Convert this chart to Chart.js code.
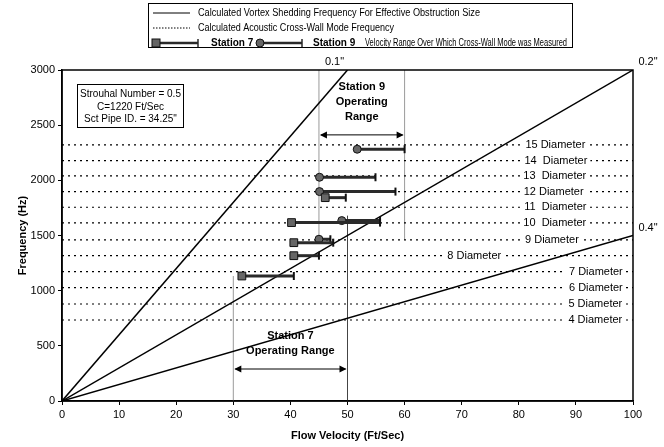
<!DOCTYPE html>
<html>
<head>
<meta charset="utf-8">
<script src="https://cdn.jsdelivr.net/npm/chart.js@4/dist/chart.umd.min.js"></script>
<style>
  body { margin: 0; background: #fff; }
  canvas { display: block; }
</style>
</head>
<body>
<canvas id="chart" width="664" height="447"></canvas>
<script>
// Vortex shedding lines (obstruction size), each from origin to an end point
const vortexSizes = ['0.1"', '0.2"', '0.4"'];
const vortexEndVelocity = [50, 100, 100];
const vortexEndFreq = [3000, 3000, 1500];

// Acoustic cross-wall modes
const modeLabels = ['4 Diameter', '5 Diameter', '6 Diameter', '7 Diameter', '8 Diameter', '9 Diameter',
  '10  Diameter', '11  Diameter', '12 Diameter', '13  Diameter', '14  Diameter', '15 Diameter'];
const modeFreqs = [734, 879, 1027, 1172, 1317, 1460, 1614, 1756, 1898, 2040, 2179, 2321];
const modeLabelVelocity = [93.4, 93.4, 93.5, 93.5, 72.2, 85.8, 86.3, 86.4, 86.1, 86.3, 86.5, 86.4];

// Measured velocity ranges
const st7Start = [31.5, 40.6, 40.6, 40.2, 46.1];
const st7End = [40.6, 45, 47.5, 55.7, 49.7];
const st7Freq = [1133, 1317, 1435, 1617, 1843];
const st9Start = [45, 49, 45.1, 45.1, 51.7];
const st9End = [47.0, 55.7, 58.4, 54.9, 60];
const st9Freq = [1466, 1635, 1898, 2028, 2282];

// Operating ranges
const rangeNames = ['Station 7', 'Station 9'];
const rangeStart = [30, 45];
const rangeEnd = [50, 60];
const rangeArrowFreq = [290, 2412];
const guideVelocity = [30, 50, 45, 60];
const guideFrom = [0, 0, 1460, 1460];
const guideTo = [1133, 1680, 3000, 3000];

const FONT = "Arial, 'Liberation Sans', sans-serif";

function segment(x0, y0, x1, y1, extra) {
  return Object.assign({
    data: [{ x: x0, y: y0 }, { x: x1, y: y1 }],
    showLine: true,
    pointRadius: 0,
    borderColor: '#000',
    borderWidth: 1,
    order: 2
  }, extra);
}

function rangeBar(s, e, f, marker) {
  return {
    data: [{ x: s, y: f }, { x: e, y: f }],
    showLine: true,
    borderColor: '#2a2a2a',
    borderWidth: 3,
    pointStyle: [marker, 'line'],
    pointRotation: [0, 90],
    pointRadius: marker === 'rect' ? [5.5, 4] : [4, 4],
    pointBackgroundColor: '#666',
    pointBorderColor: '#111',
    pointBorderWidth: [1, 2],
    order: 0
  };
}

const datasets = [];
st7Start.forEach((s, i) => datasets.push(rangeBar(s, st7End[i], st7Freq[i], 'rect')));
st9Start.forEach((s, i) => datasets.push(rangeBar(s, st9End[i], st9Freq[i], 'circle')));
vortexSizes.forEach((n, i) => datasets.push(segment(0, 0, vortexEndVelocity[i], vortexEndFreq[i], { borderWidth: 1.5, order: 1 })));
modeFreqs.forEach(f => datasets.push(segment(0, f, 100, f, { borderDash: [2, 4], borderWidth: 1.2 })));
guideVelocity.forEach((v, i) => datasets.push(segment(v, guideFrom[i], v, guideTo[i], {
  borderColor: v === 50 ? '#444' : '#9a9a9a', borderWidth: 1, order: 3
})));

function arrowHead(ctx, x, y, dir) {
  ctx.beginPath();
  ctx.moveTo(x, y);
  ctx.lineTo(x - dir * 7, y - 3.5);
  ctx.lineTo(x - dir * 7, y + 3.5);
  ctx.closePath();
  ctx.fill();
}

const overlay = {
  id: 'overlay',
  afterDatasetsDraw(chart) {
    const ctx = chart.ctx;
    const xs = chart.scales.x, ys = chart.scales.y;
    const a = chart.chartArea;
    ctx.save();

    // plot frame
    ctx.strokeStyle = '#000';
    ctx.lineWidth = 1.5;
    ctx.strokeRect(a.left, a.top, a.right - a.left, a.bottom - a.top);

    // mode labels
    ctx.font = '11px ' + FONT;
    ctx.textAlign = 'center';
    ctx.textBaseline = 'middle';
    modeLabels.forEach((t, i) => {
      const x = xs.getPixelForValue(modeLabelVelocity[i]);
      const y = ys.getPixelForValue(modeFreqs[i]);
      const w = ctx.measureText(t).width + 6;
      ctx.fillStyle = '#fff';
      ctx.fillRect(x - w / 2, y - 6, w, 12);
      ctx.fillStyle = '#000';
      ctx.fillText(t, x, y);
    });

    // obstruction size labels
    vortexSizes.forEach((t, i) => {
      const x = xs.getPixelForValue(vortexEndVelocity[i]);
      const y = ys.getPixelForValue(vortexEndFreq[i]);
      const dx = i === 0 ? -13 : 15;
      ctx.fillText(t, x + dx, y - 8);
    });

    // operating range arrows and titles
    ctx.font = 'bold 11px ' + FONT;
    rangeNames.forEach((n, i) => {
      const x0 = xs.getPixelForValue(rangeStart[i]);
      const x1 = xs.getPixelForValue(rangeEnd[i]);
      const y = ys.getPixelForValue(rangeArrowFreq[i]);
      ctx.strokeStyle = '#000';
      ctx.lineWidth = 1;
      ctx.beginPath();
      ctx.moveTo(x0 + 2, y);
      ctx.lineTo(x1 - 2, y);
      ctx.stroke();
      ctx.fillStyle = '#000';
      arrowHead(ctx, x0 + 1, y, -1);
      arrowHead(ctx, x1 - 1, y, 1);
      const cx = (x0 + x1) / 2;
      const lines = i === 0 ? [n, 'Operating Range'] : [n, 'Operating', 'Range'];
      lines.forEach((t, k) => ctx.fillText(t, cx, y - 15 * (lines.length - k) - 3));
    });

    // parameter box
    ctx.lineWidth = 1;
    ctx.strokeRect(77.5, 84.5, 106, 43);
    ctx.font = '10px ' + FONT;
    ['Strouhal Number = 0.5', 'C=1220 Ft/Sec', 'Sct Pipe ID. = 34.25"'].forEach((t, k) => {
      ctx.fillText(t, 130.5, 94 + k * 12.8);
    });

    // legend box
    ctx.strokeRect(148.5, 3.5, 424, 44);
    ctx.textAlign = 'left';
    ctx.font = '10px ' + FONT;
    ctx.beginPath();
    ctx.moveTo(153, 13); ctx.lineTo(190, 13); ctx.stroke();
    ctx.fillText('Calculated Vortex Shedding Frequency For Effective Obstruction Size', 198, 13, 282);
    ctx.setLineDash([1.5, 1.5]);
    ctx.beginPath();
    ctx.moveTo(153, 28); ctx.lineTo(190, 28); ctx.stroke();
    ctx.setLineDash([]);
    ctx.fillText('Calculated Acoustic Cross-Wall Mode Frequency', 198, 28, 196);
    // legend row 3
    ctx.lineWidth = 2.5;
    ctx.strokeStyle = '#2a2a2a';
    ctx.beginPath(); ctx.moveTo(156, 43); ctx.lineTo(198, 43); ctx.stroke();
    ctx.beginPath(); ctx.moveTo(260, 43); ctx.lineTo(302, 43); ctx.stroke();
    ctx.lineWidth = 1.5;
    ctx.beginPath(); ctx.moveTo(198, 39); ctx.lineTo(198, 47); ctx.stroke();
    ctx.beginPath(); ctx.moveTo(302, 39); ctx.lineTo(302, 47); ctx.stroke();
    ctx.fillStyle = '#666';
    ctx.strokeStyle = '#111';
    ctx.lineWidth = 1;
    ctx.fillRect(152, 39, 8, 8); ctx.strokeRect(152, 39, 8, 8);
    ctx.beginPath(); ctx.arc(260, 43, 4, 0, Math.PI * 2); ctx.fill(); ctx.stroke();
    ctx.fillStyle = '#000';
    ctx.font = 'bold 10px ' + FONT;
    ctx.fillText('Station 7', 211, 43);
    ctx.fillText('Station 9', 313, 43);
    ctx.font = '10px ' + FONT;
    ctx.fillText('Velocity Range Over Which Cross-Wall Mode was Measured', 365, 43, 202);

    ctx.restore();
  }
};

new Chart(document.getElementById('chart').getContext('2d'), {
  type: 'scatter',
  data: { datasets: datasets },
  options: {
    responsive: false,
    animation: false,
    layout: { padding: { left: 12, top: 70, right: 31, bottom: 0 } },
    plugins: { legend: { display: false }, tooltip: { enabled: false } },
    scales: {
      x: {
        type: 'linear', min: 0, max: 100,
        ticks: { stepSize: 10, color: '#000', font: { family: FONT, size: 11 } },
        grid: { drawOnChartArea: false, tickLength: 4, color: '#000' },
        border: { color: '#000', width: 1.5 },
        title: { display: true, text: 'Flow Velocity (Ft/Sec)', color: '#000', font: { family: FONT, size: 11, weight: 'bold' } },
        afterFit(s) { s.height = 46; }
      },
      y: {
        min: 0, max: 3000,
        ticks: { stepSize: 500, color: '#000', font: { family: FONT, size: 11 }, callback: v => String(v) },
        grid: { drawOnChartArea: false, tickLength: 4, color: '#000' },
        border: { color: '#000', width: 1.5 },
        title: { display: true, text: 'Frequency (Hz)', color: '#000', font: { family: FONT, size: 11, weight: 'bold' } },
        afterFit(s) { s.width = 50; }
      }
    }
  },
  plugins: [overlay]
});
</script>
</body>
</html>
